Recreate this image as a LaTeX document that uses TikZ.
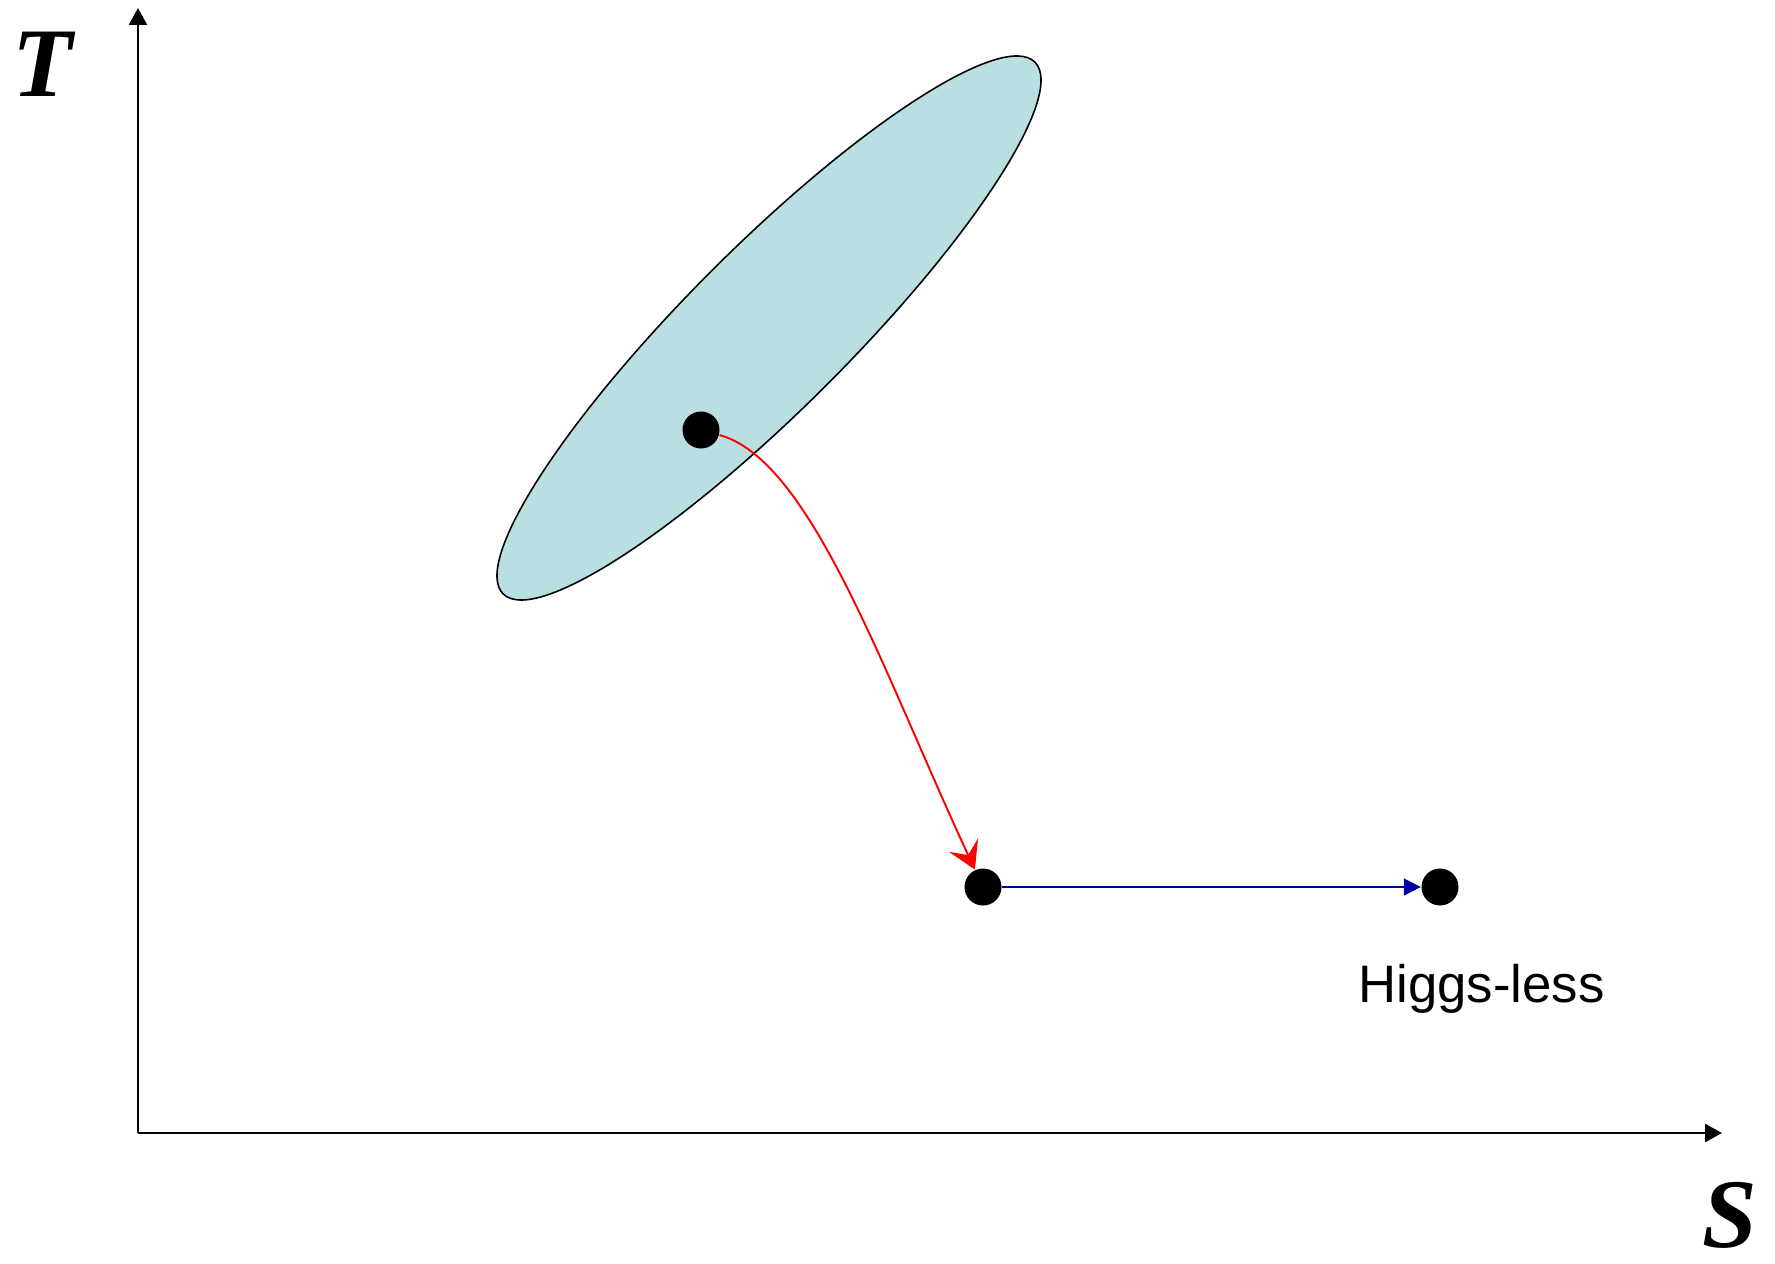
\documentclass[tikz,border=0pt]{standalone}
\usepackage{fontspec}
\setmainfont{Liberation Serif}
\setsansfont{Liberation Sans}
\usepackage{tikz}
\usetikzlibrary{positioning,shapes.geometric,arrows.meta}
\definecolor{regionfill}{RGB}{185,223,227}
\definecolor{pathblue}{RGB}{0,0,160}

\begin{document}
\begin{tikzpicture}[>=Stealth,
  axis/.style={line width=0.7pt,-{Triangle[length=0.17cm,width=0.18cm]}},
  dot/.style={circle,fill=black,inner sep=0pt,minimum size=0.37cm},
  axlabel/.style={inner sep=0pt,font=\fontsize{28}{28}\selectfont\bfseries\itshape}]
\useasboundingbox (0,0) rectangle (17.75,12.63);
\coordinate (o) at (1.38,1.30);
\coordinate (xend) at (17.22,1.30);
\coordinate (yend) at (1.38,12.55);
\draw[axis] (o) -- (xend); \draw[axis] (o) -- (yend);
\node[axlabel] (tlab) at (0.43,11.99) {T};
\node[axlabel] (slab) at (17.30,0.48) {S};
\node[ellipse,draw,line width=0.45pt,fill=regionfill,inner sep=0pt,minimum width=7.52cm,minimum height=1.62cm,rotate=45] (region) at (7.69,9.35) {};
\node[dot] (p1) at (7.01,8.33) {};
\node[dot] (p2) at (9.83,3.76) {};
\node[dot] (p3) at (14.40,3.76) {};
\draw[red,line width=0.55pt,-{Stealth[length=0.27cm,width=0.32cm,inset=0.11cm]}] (p1) .. controls +(1.1,-0.3) and +(-1.0,2.15) .. (p2);
\draw[pathblue,line width=0.55pt,-{Triangle[length=0.17cm,width=0.17cm]}] (p2) -- (p3);
\node[font=\sffamily\fontsize{15}{15}\selectfont,anchor=base] (hl) at (14.815,2.61) {Higgs-less};
\end{tikzpicture}
\end{document}
